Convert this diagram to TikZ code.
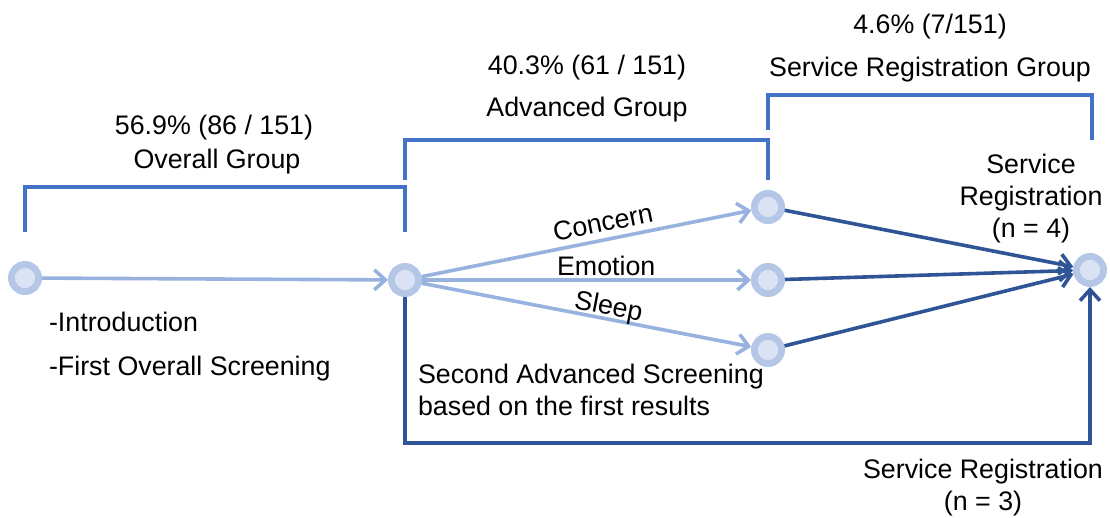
\documentclass[tikz,border=0pt]{standalone}
\usepackage{fontspec}
\setmainfont{Liberation Sans}
\usetikzlibrary{positioning, arrows.meta}
\definecolor{stepfill}{HTML}{DAE3F3}
\definecolor{stepline}{HTML}{B4C7E7}
\definecolor{lightedge}{HTML}{98B2E0}
\definecolor{darkedge}{HTML}{2F5597}
\definecolor{groupline}{HTML}{4472C4}
\tikzset{x=0.5pt, y=-0.5pt, % pixel-like coordinates, y downwards
every node/.style={font=\fontsize{13.4}{16}\selectfont},
stepnode/.style={ % Sets the properties for each step
circle, fill=stepfill, draw=stepline, line width=3.4pt,
minimum size=13.6pt, inner sep=0pt},
lightflow/.style={ % first screening transitions
draw=lightedge, line width=1.8pt, -{Straight Barb[length=5.5pt,width=10pt]}},
darkflow/.style={ % registration transitions
draw=darkedge, line width=1.8pt, -{Straight Barb[length=5.5pt,width=10pt]}},
groupbracket/.style={draw=groupline, line width=1.9pt},
edgelabel/.style={sloped, above, pos=0.56, inner sep=3pt}}

\begin{document}
\begin{tikzpicture}
    \useasboundingbox (0,0) rectangle (1110,518);

    % states
    \node[stepnode] (start) at (25,278) {};
    \node[stepnode] (second) at (405,280) {};
    \node[stepnode] (concern) at (768,207) {};
    \node[stepnode] (emotion) at (768,280) {};
    \node[stepnode] (sleep) at (768,350) {};
    \node[stepnode] (service) at (1090,270) {};

    % transitions
    \draw[lightflow] (start) -- (second);
    \draw[lightflow] (second) -- node[edgelabel] {Concern} (concern);
    \draw[lightflow] (second) -- node[edgelabel, inner sep=1pt] {Emotion} (emotion);
    \draw[lightflow] (second) -- node[edgelabel, inner sep=-1.5pt] {Sleep} (sleep);
    \draw[darkflow] (concern) -- (service);
    \draw[darkflow] (emotion) -- (service);
    \draw[darkflow] (sleep) -- (service);
    \draw[darkflow] (second.south) |- (service.south |- 0,443) -- (service.south);

    % group brackets
    \draw[groupbracket] (25,232) |- (405,187) -- (405,232);
    \draw[groupbracket] (405,180) |- (768,140) -- (768,180);
    \draw[groupbracket] (768,130) |- (1092,95) -- (1092,140);

    % group labels
    \node (overallpct) at (214,128) {56.9\% (86 / 151)};
    \node (overallname) at (217,162) {Overall Group};
    \node (advancedpct) at (587,68) {40.3\% (61 / 151)};
    \node (advancedname) at (587,110) {Advanced Group};
    \node (servicepct) at (930,27) {4.6\% (7/151)};
    \node (servicename) at (930,70) {Service Registration Group};

    % descriptions
    \node[align=center] (servicefour) at (1031,199) {Service\\Registration\\(n = 4)};
    \node[anchor=west] (intro) at (42,322) {-Introduction};
    \node[anchor=west] (firstscreen) at (42,369) {-First Overall Screening};
    \node[anchor=west, align=left] (secondscreen) at (411,390)
        {Second Advanced Screening\\based on the first results};
    \node[align=center] (servicethree) at (983,488) {Service Registration\\(n = 3)};
\end{tikzpicture}
\end{document}
